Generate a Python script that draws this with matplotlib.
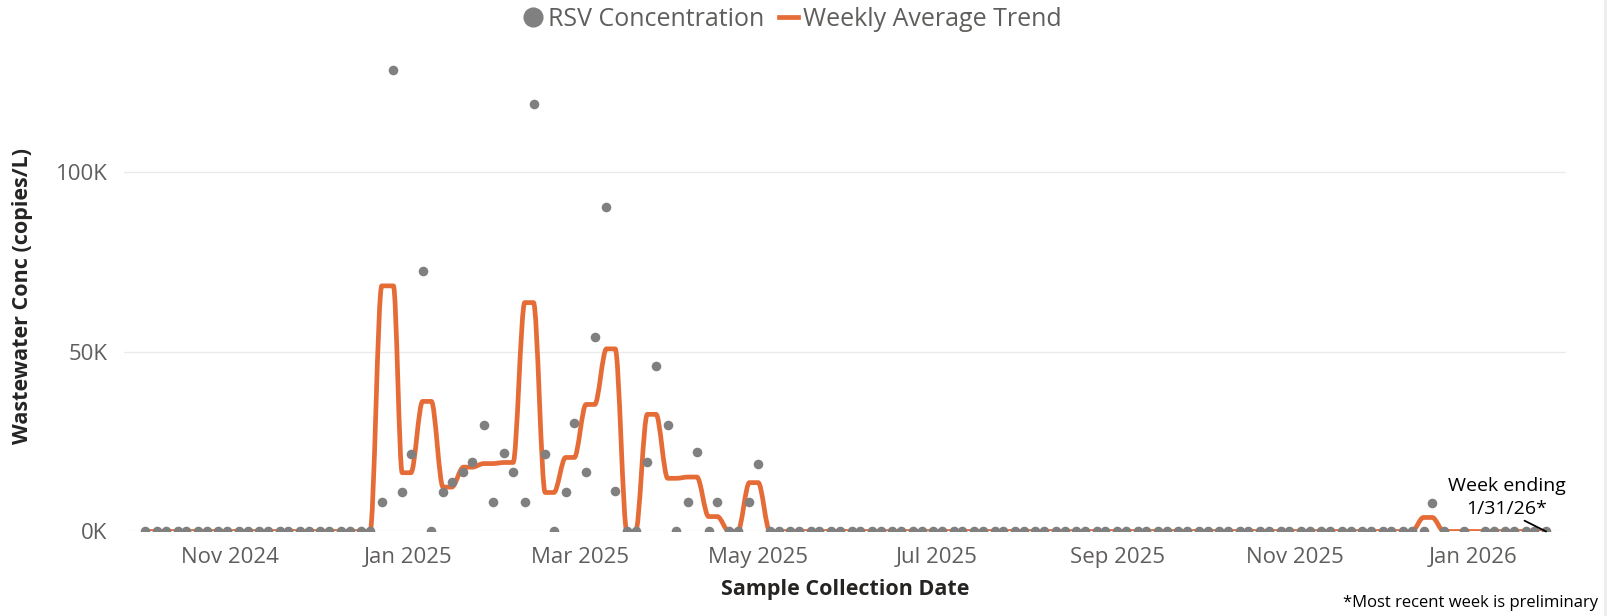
import matplotlib
matplotlib.use('Agg')
import matplotlib.pyplot as plt
import matplotlib.dates as mdates
from matplotlib.path import Path
from matplotlib.patches import PathPatch
from matplotlib.lines import Line2D
from matplotlib.ticker import FuncFormatter
import numpy as np
import pandas as pd

# sampling schedule: twice a week (Mon/Thu)
first_sample = '2024-10-03'
last_sample = '2026-01-26'
moved_samples = {'2024-12-26': '2024-12-27'}
skipped_samples = ['2025-12-25', '2026-01-01']

# samples with detectable RSV (copies/L); all other samples read as 0
active_dates = ['2024-12-23', '2024-12-27', '2024-12-30', '2025-01-02',
                '2025-01-06', '2025-01-09', '2025-01-13', '2025-01-16',
                '2025-01-20', '2025-01-23', '2025-01-27', '2025-01-30',
                '2025-02-03', '2025-02-06', '2025-02-10', '2025-02-13',
                '2025-02-17', '2025-02-20', '2025-02-24', '2025-02-27',
                '2025-03-03', '2025-03-06', '2025-03-10', '2025-03-13',
                '2025-03-17', '2025-03-20', '2025-03-24', '2025-03-27',
                '2025-03-31', '2025-04-03', '2025-04-07', '2025-04-10',
                '2025-04-14', '2025-04-17', '2025-04-21', '2025-04-24',
                '2025-04-28', '2025-05-01', '2025-12-18']
active_conc = [8300, 128400, 11000, 21700,
               72400, 0, 11000, 13700,
               16500, 19300, 29500, 8300,
               21900, 16500, 8300, 119100,
               21700, 0, 11000, 30200,
               16600, 54100, 90400, 11250,
               0, 0, 19200, 46000,
               29600, 0, 8300, 22000,
               0, 8300, 0, 0,
               8300, 18900, 7800]

y_ticks = [0, 50000, 100000]
x_tick_months = pd.date_range('2024-11-01', '2026-01-01', freq='2MS')

ORANGE = '#E66C37'
GREY = '#808080'
TEXT = '#605E5C'
TITLE = '#252423'


def smooth_path(x, y):
    # monotone cubic (pchip-style) curve drawn as bezier segments
    h = np.diff(x)
    d = np.diff(y) / h
    m = np.zeros(len(x))
    for k in range(1, len(x) - 1):
        if d[k - 1] * d[k] > 0:
            w1 = 2 * h[k] + h[k - 1]
            w2 = h[k] + 2 * h[k - 1]
            m[k] = (w1 + w2) / (w1 / d[k - 1] + w2 / d[k])
    verts = [(x[0], y[0])]
    codes = [Path.MOVETO]
    for i in range(len(x) - 1):
        verts += [(x[i] + h[i] / 3, y[i] + m[i] * h[i] / 3),
                  (x[i + 1] - h[i] / 3, y[i + 1] - m[i + 1] * h[i] / 3),
                  (x[i + 1], y[i + 1])]
        codes += [Path.CURVE4] * 3
    return Path(verts, codes)


def main():
    plt.rcParams['font.family'] = ['Open Sans', 'DejaVu Sans']

    mondays = pd.date_range('2024-09-30', last_sample, freq='W-MON')
    dates = mondays.union(mondays + pd.Timedelta(days=3))
    dates = dates[(dates >= first_sample) & (dates <= last_sample)]
    dates = pd.DatetimeIndex([pd.Timestamp(moved_samples.get(d.strftime('%Y-%m-%d'), d)) for d in dates])
    dates = dates.drop(pd.DatetimeIndex(skipped_samples)).sort_values()

    conc = pd.Series(0.0, index=dates)
    conc[pd.DatetimeIndex(active_dates)] = active_conc
    weekly = conc.groupby(dates.to_period('W-SAT')).transform('mean')

    fig = plt.figure(figsize=(16.19, 6.16), dpi=100)
    ax = fig.add_axes([0.0766, 0.1372, 0.8907, 0.7817])

    xnum = mdates.date2num(dates)
    ax.add_patch(PathPatch(smooth_path(xnum, weekly.values), fill=False,
                           edgecolor=ORANGE, lw=3.4, capstyle='round',
                           joinstyle='round', zorder=2))
    ax.scatter(dates, conc.values, s=48, color=GREY, zorder=3, linewidths=0)

    x0 = mdates.date2num(pd.Timestamp('2025-01-01'))
    ax.set_xlim(x0 - 97.33, x0 + 396.85)
    ax.set_ylim(0, 134000)

    ax.set_xticks(x_tick_months)
    ax.xaxis.set_major_formatter(mdates.DateFormatter('%b %Y'))
    ax.set_yticks(y_ticks)
    ax.yaxis.set_major_formatter(FuncFormatter(lambda v, p: f'{v / 1000:.0f}K'))
    ax.tick_params(axis='x', length=0, pad=11, labelsize=16, labelcolor=TEXT)
    ax.tick_params(axis='y', length=0, pad=12, labelsize=16, labelcolor=TEXT)
    ax.grid(axis='y', color='#EBEBEB', lw=1)
    ax.set_axisbelow(True)
    for s in ax.spines.values():
        s.set_visible(False)

    ax.set_xlabel('Sample Collection Date', fontsize=15.5, fontweight='bold', color=TITLE)
    ax.xaxis.set_label_coords(0.5, -0.098)
    ax.set_ylabel('Wastewater Conc (copies/L)', fontsize=15.5, fontweight='bold', color=TITLE)
    ax.yaxis.set_label_coords(-0.0628, 0.489)

    ax.annotate('Week ending\n1/31/26*', xy=(dates[-1], conc.values[-1]),
                xytext=(-28.3, 24.5), textcoords='offset points',
                ha='center', va='center', fontsize=14, color='black',
                linespacing=1.35, annotation_clip=False,
                arrowprops=dict(arrowstyle='-', color='black', lw=1.3,
                                shrinkA=0, shrinkB=0, relpos=(0.5, 0.15)))

    handles = [Line2D([], [], marker='o', ls='none', color=GREY, markersize=13.5),
               Line2D([], [], color=ORANGE, lw=3.4)]
    fig.legend(handles, ['RSV Concentration', 'Weekly Average Trend'],
               loc='center', bbox_to_anchor=(0.4895, 0.969), ncol=2,
               frameon=False, fontsize=18, labelcolor=TEXT,
               handlelength=0.76, handletextpad=0.2, columnspacing=0.6,
               borderpad=0, borderaxespad=0)

    fig.text(1598 / 1619, 1 - 603 / 616, '*Most recent week is preliminary',
             ha='right', va='center', fontsize=12, color='black')
    fig.add_artist(Line2D([0.9914, 0.9914], [0, 1], transform=fig.transFigure,
                          color='#EDEDED', lw=2))

    fig.savefig('out.png', dpi=100)


if '__main__' == __name__:
    main()
